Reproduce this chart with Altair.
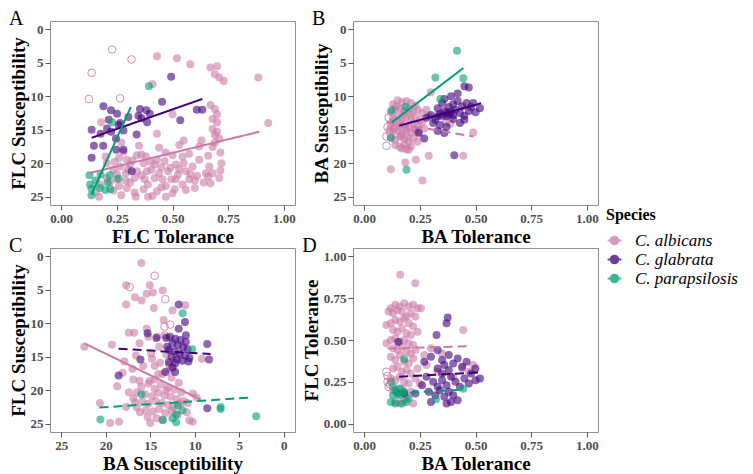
import altair as alt
import pandas as pd

SPECIES = ["C. albicans", "C. glabrata", "C. parapsilosis"]
COLORS = ["#CC79A7", "#3F007D", "#009E73"]
SERIF = "Liberation Serif"

# ---------------- Panel A: FLC Tolerance (x) vs FLC Susceptibility (y)
A_ALB = [(0.43,4.0),(0.52,4.3),(0.58,5.2),(0.67,5.7),(0.70,5.5),(0.69,6.7),(0.71,7.2),(0.73,7.7),
 (0.885,7.2),(0.41,8.2),(0.67,11.3),(0.69,11.9),(0.70,12.7),(0.68,13.4),(0.70,13.9),(0.68,14.9),
 (0.70,15.3),(0.69,15.8),(0.71,16.3),(0.69,16.9),(0.68,17.6),(0.715,18.4),(0.72,20.0),(0.715,21.1),
 (0.68,21.5),(0.665,20.5),(0.63,16.6),(0.62,17.5),(0.93,14.0),(0.50,12.7),(0.55,16.6),(0.53,17.3),
 (0.18,13.9),(0.27,16.9),(0.17,25.0),(0.575,18.6),(0.50,18.8),(0.34,18.8),(0.38,19.0),(0.43,19.5),
 (0.465,19.7),(0.37,20.0),(0.31,20.2),(0.265,20.5),(0.235,21.0),(0.29,21.5),(0.34,21.2),(0.405,21.0),
 (0.44,21.5),(0.49,20.7),(0.515,20.2),(0.55,20.0),(0.59,20.5),(0.56,21.2),(0.525,21.7),(0.495,22.4),
 (0.455,22.4),(0.42,22.2),(0.375,22.4),(0.33,22.2),(0.29,22.6),(0.25,22.4),(0.26,23.4),(0.295,23.7),
 (0.33,24.4),(0.335,25.0),(0.41,24.9),(0.43,24.2),(0.47,23.4),(0.51,23.9),(0.545,23.2),(0.575,22.4),
 (0.61,21.9),(0.64,22.9),(0.60,23.7),(0.65,21.5),(0.62,19.5),(0.545,19.0),(0.42,20.2),(0.385,21.2),
 (0.205,20.0),(0.205,22.2),(0.175,23.2),(0.37,23.9),(0.235,24.1),(0.155,24.3),(0.43,15.6),(0.295,19.5),
 (0.36,18.7),(0.26,19.2),(0.515,22.4),(0.28,18.3),(0.32,19.6),(0.40,19.8),(0.45,20.6),(0.48,21.2),
 (0.36,21.8),(0.31,22.9),(0.39,23.2),(0.45,23.6),(0.53,20.9),(0.58,21.6),(0.60,22.6),(0.66,22.0),
 (0.67,23.0),(0.50,24.5),(0.56,24.0),(0.47,25.0),(0.39,25.0),(0.27,24.8),(0.22,22.8),(0.25,21.6),
 (0.30,20.9),(0.66,18.9),(0.71,22.2),(0.47,18.4),(0.44,17.7),(0.35,17.4),(0.20,19.0),(0.24,19.8)]
A_GLA = [(0.494,7.1),(0.453,10.8),(0.137,15.0),(0.137,19.2),(0.147,17.4),(0.19,11.5),(0.224,12.1),
 (0.251,12.6),(0.258,14.3),(0.206,14.8),(0.177,15.6),(0.189,17.4),(0.224,15.3),(0.246,16.3),(0.248,18.0),
 (0.28,18.0),(0.28,15.1),(0.302,13.1),(0.339,15.7),(0.354,11.9),(0.383,12.1),(0.361,13.3),(0.386,13.9),
 (0.347,12.9),(0.398,12.6),(0.535,13.6),(0.609,12.0),(0.634,12.0),(0.317,21.2),(0.265,14.0),(0.214,13.5)]
A_PAR = [(0.394,8.5),(0.229,13.9),(0.127,21.8),(0.136,23.8),(0.136,24.8),(0.174,23.7),(0.199,24.0),
 (0.218,21.8),(0.209,22.9),(0.258,22.3),(0.155,22.6),(0.177,21.7),(0.221,23.9),(0.13,23.2)]
A_HOLLOW = [(0.229,3.0),(0.316,4.5),(0.137,6.5),(0.125,10.4),(0.265,10.3)]
A_FITS = [("C. albicans",0.125,21.5,0.89,15.3,"solid"),
          ("C. glabrata",0.137,16.2,0.634,10.4,"solid"),
          ("C. parapsilosis",0.136,24.7,0.313,11.6,"solid")]

# ---------------- Panel B: BA Tolerance (x) vs BA Susceptibility (y)
B_ALB = [(0.12,20.9),(0.262,22.6),(0.185,19.9),(0.232,19.5),(0.29,18.9),(0.445,18.9),(0.49,15.4),
 (0.30,9.4),(0.367,13.8),(0.387,14.1),(0.20,18.0),(0.17,17.8),(0.24,16.8),(0.27,14.8),(0.26,12.5),
 (0.13,11.2),(0.15,10.6),(0.17,10.9),(0.19,10.7),(0.21,11.0),(0.23,11.4),
 (0.12,12.4),(0.14,12.0),(0.16,11.8),(0.18,12.2),(0.20,11.9),(0.22,12.3),(0.24,12.0),
 (0.13,13.3),(0.15,13.0),(0.17,13.4),(0.19,13.1),(0.21,13.5),(0.23,13.2),(0.25,13.6),
 (0.12,14.3),(0.14,14.0),(0.16,14.5),(0.18,14.2),(0.20,14.6),(0.22,14.1),(0.24,14.4),
 (0.13,15.3),(0.15,15.0),(0.17,15.6),(0.19,15.2),(0.21,15.5),(0.23,15.1),
 (0.12,16.2),(0.14,16.5),(0.16,16.0),(0.18,16.4),(0.20,16.8),(0.22,16.3),
 (0.14,17.3),(0.16,17.6),(0.18,17.2),(0.19,17.9),(0.21,17.5),
 (0.135,14.8),(0.155,13.7),(0.175,12.7),(0.165,15.9),(0.185,14.9),(0.145,11.5),(0.205,12.6),
 (0.195,16.2),(0.115,15.0),(0.125,13.8),(0.225,14.8),(0.245,15.6),(0.26,13.9),(0.28,12.0),(0.29,13.0)]
B_GLA = [(0.30,12.8),(0.32,13.5),(0.33,11.8),(0.34,12.6),(0.35,11.0),(0.36,12.2),(0.37,13.0),(0.38,11.6),
 (0.38,12.7),(0.39,12.3),(0.40,11.2),(0.40,13.4),(0.41,12.0),(0.42,10.7),(0.43,12.5),(0.44,11.5),
 (0.45,12.9),(0.46,11.0),(0.47,12.2),(0.48,11.6),(0.50,12.4),(0.36,10.4),(0.39,10.0),(0.42,9.6),
 (0.34,14.3),(0.37,14.6),(0.33,15.2),(0.36,15.5),(0.28,13.2),(0.31,14.0),(0.45,13.5),(0.49,11.0),
 (0.52,11.8),(0.45,8.5),(0.47,8.7),(0.405,18.8),(0.27,16.3),(0.245,15.4),(0.35,12.9),(0.37,12.5),
 (0.40,12.8),(0.33,13.0),(0.43,14.0)]
B_PAR = [(0.417,3.2),(0.32,7.2),(0.445,7.3),(0.123,12.1),(0.19,21.0),(0.187,11.6),(0.342,10.4),(0.12,16.2)]
B_HOLLOW = [(0.10,17.4),(0.11,13.2),(0.105,14.6),(0.115,15.3),(0.10,16.0)]
B_FITS = [("C. albicans",0.10,13.8,0.49,16.0,"dashed"),
          ("C. glabrata",0.157,14.4,0.525,11.05,"solid"),
          ("C. parapsilosis",0.124,13.9,0.445,5.8,"solid")]

# ---------------- Panel C: BA Susceptibility (x, reversed) vs FLC Susceptibility (y)
C_ALB = [(16.0,1.0),(17.7,4.3),(15.05,4.3),(13.6,5.1),(16.7,6.1),(14.7,5.4),(15.4,5.6),(15.97,6.6),
 (17.7,7.2),(14.6,7.7),(11.06,7.3),(12.5,8.1),(22.4,13.5),(19.3,13.2),(17.4,11.4),(16.8,11.4),
 (15.4,10.8),(15.2,12.0),(14.2,12.0),(13.4,11.8),(20.65,21.9),(18.7,19.4),(19.5,24.9),(18.5,24.7),
 (17.7,22.5),(17.4,20.3),(18.1,17.4),(17.9,15.7),(16.9,18.4),(16.5,20.3),(16.7,21.8),(16.15,23.3),
 (15.0,24.9),(10.6,24.5),(10.25,24.7),(9.2,15.3),(14.9,14.5),(13.9,15.9),(13.2,14.7),(16.2,13.0),
 (15.8,16.4),(14.5,16.4),(13.6,17.6),(12.8,16.9),(12.1,15.0),(16.2,18.6),(15.05,18.6),(14.1,17.6),
 (16.0,19.5),(15.2,19.0),(14.5,19.8),(13.8,19.2),(13.0,19.6),(12.3,19.9),(11.5,20.3),(15.6,20.6),
 (14.8,20.9),(14.1,20.4),(13.4,20.8),(12.7,21.0),(12.0,21.3),(11.2,21.6),(15.9,21.7),(15.2,22.0),
 (14.4,21.6),(13.7,21.9),(13.0,22.2),(12.4,22.5),(11.6,22.0),(10.8,21.9),(15.5,23.0),(14.7,23.2),
 (14.0,22.8),(13.3,23.4),(12.6,23.1),(11.9,23.7),(14.3,24.2),(13.6,24.4),(16.5,22.6),(16.9,21.2),
 (15.3,24.0),(10.9,23.3),(13.2,20.0),(14.5,18.4),(12.6,18.1),(11.8,18.9),(10.2,20.5),(9.8,21.1),
 (14.0,13.5),(13.5,9.5),(12.9,16.2),(14.8,15.3),(17.0,16.8),(16.6,14.8)]
C_GLA = [(12.8,12.0),(12.2,12.3),(11.6,12.5),(11.0,12.8),(12.5,13.0),(11.9,13.3),(11.3,13.6),(10.8,13.9),
 (12.9,14.0),(12.3,14.2),(11.7,14.5),(11.1,14.8),(10.6,15.2),(12.6,15.0),(12.0,15.4),(11.4,15.6),
 (12.9,15.8),(12.2,16.0),(13.1,13.5),(11.0,11.8),(10.7,15.7),(12.5,16.6),(11.8,7.2),(11.1,9.8),
 (11.8,10.8),(15.3,11.5),(16.1,15.4),(18.55,17.8),(13.3,17.3),(12.2,17.3),(8.6,13.1),(8.4,15.4),
 (8.6,22.7),(14.3,12.2),(13.2,12.2)]
C_PAR = [(11.36,8.5),(10.3,13.9),(16.0,20.6),(20.6,24.4),(13.6,24.5),(12.1,24.8),(12.5,24.2),(11.4,23.0),
 (12.1,23.6),(7.1,22.5),(7.1,22.8),(3.1,23.9),(11.9,22.3)]
C_HOLLOW = [(14.5,2.9),(17.3,4.6),(13.3,6.4),(13.4,10.5),(12.76,10.2)]
C_FITS = [("C. albicans",22.4,13.0,9.33,21.4,"solid"),
          ("C. glabrata",18.55,13.8,8.22,14.6,"dashed"),
          ("C. parapsilosis",20.7,22.6,3.8,21.1,"dashed")]

# ---------------- Panel D: BA Tolerance (x) vs FLC Tolerance (y)
D_ALB = [(0.12,0.69),(0.14,0.71),(0.16,0.70),(0.18,0.72),(0.20,0.70),(0.22,0.71),(0.24,0.69),
 (0.13,0.66),(0.15,0.68),(0.17,0.67),(0.19,0.64),(0.21,0.66),(0.23,0.64),
 (0.12,0.60),(0.14,0.62),(0.16,0.61),(0.18,0.63),(0.20,0.60),(0.22,0.58),
 (0.13,0.56),(0.15,0.55),(0.17,0.57),(0.19,0.54),(0.21,0.53),(0.24,0.55),
 (0.12,0.50),(0.14,0.51),(0.16,0.49),(0.18,0.50),(0.20,0.48),(0.22,0.47),
 (0.13,0.45),(0.15,0.44),(0.17,0.46),(0.19,0.43),(0.21,0.42),(0.23,0.44),
 (0.12,0.40),(0.14,0.38),(0.16,0.41),(0.18,0.37),(0.20,0.36),(0.22,0.39),
 (0.13,0.33),(0.15,0.34),(0.17,0.31),(0.19,0.32),(0.21,0.30),(0.24,0.33),
 (0.12,0.27),(0.14,0.26),(0.16,0.28),(0.18,0.25),(0.20,0.24),(0.23,0.27),
 (0.13,0.20),(0.15,0.18),(0.17,0.21),(0.19,0.16),(0.21,0.19),
 (0.14,0.13),(0.16,0.12),(0.18,0.14),(0.22,0.12),
 (0.162,0.89),(0.23,0.84),(0.255,0.69),(0.445,0.56),(0.49,0.35),(0.30,0.45),(0.27,0.41),(0.35,0.42),
 (0.28,0.35),(0.25,0.24),(0.40,0.28),(0.44,0.33),(0.33,0.31),(0.47,0.31),(0.10,0.59),(0.10,0.48),(0.11,0.67)]
D_GLA = [(0.27,0.37),(0.30,0.40),(0.33,0.33),(0.35,0.38),(0.38,0.41),(0.40,0.36),(0.42,0.39),(0.44,0.34),
 (0.46,0.37),(0.48,0.30),(0.50,0.26),(0.52,0.27),(0.28,0.28),(0.31,0.25),(0.33,0.22),(0.35,0.26),
 (0.37,0.23),(0.39,0.28),(0.41,0.25),(0.43,0.22),(0.45,0.27),(0.47,0.24),(0.29,0.19),(0.32,0.17),
 (0.34,0.20),(0.36,0.16),(0.38,0.19),(0.40,0.17),(0.42,0.14),(0.30,0.13),(0.37,0.12),(0.39,0.13),
 (0.35,0.30),(0.38,0.32),(0.36,0.35),(0.26,0.23),(0.23,0.18),(0.18,0.18),(0.375,0.635),(0.37,0.60),
 (0.325,0.53),(0.153,0.488),(0.33,0.44),(0.50,0.33)]
D_PAR = [(0.12,0.25),(0.13,0.22),(0.14,0.20),(0.15,0.18),(0.16,0.17),(0.13,0.17),(0.12,0.13),(0.14,0.12),
 (0.17,0.12),(0.19,0.13),(0.20,0.15),(0.18,0.385),(0.445,0.209),(0.3225,0.146),(0.16,0.21),(0.18,0.19)]
D_HOLLOW = [(0.10,0.31),(0.105,0.25),(0.11,0.22),(0.105,0.285),(0.115,0.235)]
D_FITS = [("C. albicans",0.105,0.449,0.48,0.463,"dashed"),
          ("C. glabrata",0.157,0.281,0.525,0.307,"dashed"),
          ("C. parapsilosis",0.142,0.18,0.427,0.203,"dashed")]

TOL_TICKS = [0, 0.25, 0.5, 0.75, 1.0]
SUS_TICKS = [0, 5, 10, 15, 20, 25]


def points_df(groups):
    rows = []
    for sp, pairs in zip(SPECIES, groups):
        for x, y in pairs:
            rows.append({"species": sp, "x": x, "y": y})
    return pd.DataFrame(rows)


def hollow_df(pairs):
    return pd.DataFrame([{"x": x, "y": y} for x, y in pairs])


def fits_df(fits):
    rows = []
    for sp, x0, y0, x1, y1, style in fits:
        rows.append({"species": sp, "x": x0, "y": y0, "style": style})
        rows.append({"species": sp, "x": x1, "y": y1, "style": style})
    return pd.DataFrame(rows)


LEGEND = alt.Legend(
    title="Species", orient="none", legendX=556, legendY=186,
    titleFont=SERIF, titleFontSize=16, titleFontWeight="bold", titleColor="black", titlePadding=9,
    labelFont=SERIF, labelFontSize=17, labelFontStyle="italic", labelFontWeight="normal",
    labelColor="black", labelOffset=12,
    symbolType="M-1,0L1,0M0.55,0A0.55,0.55,0,1,1,-0.55,0A0.55,0.55,0,1,1,0.55,0Z",
    symbolSize=190, symbolStrokeWidth=2, symbolOpacity=0.75, rowPadding=1,
)


def make_axis(vals, fmt, title):
    return alt.Axis(values=vals, format=fmt, title=title, labelOverlap=False, labelFlush=False,
                    labelFont=SERIF, labelFontSize=13, labelFontWeight="bold", labelColor="#4D4D4D",
                    labelPadding=2, titleFont=SERIF, titleFontSize=19, titleFontWeight="bold",
                    titleColor="black", titlePadding=2, tickSize=5)


def panel(letter, pts, hol, fits, xdom, ydom, xvals, yvals, xfmt, yfmt, xtitle, ytitle, xrev, yrev):
    xs = alt.Scale(domain=xdom, nice=False, zero=False, reverse=xrev)
    ys = alt.Scale(domain=ydom, nice=False, zero=False, reverse=yrev)
    xe = alt.X("x:Q", scale=xs, axis=make_axis(xvals, xfmt, xtitle))
    ye = alt.Y("y:Q", scale=ys, axis=make_axis(yvals, yfmt, ytitle))
    cscale = alt.Scale(domain=SPECIES, range=COLORS)
    p = alt.Chart(pts).mark_circle(size=64, opacity=0.6).encode(
        x=xe, y=ye, color=alt.Color("species:N", scale=cscale, legend=LEGEND))
    h = alt.Chart(hol).mark_point(size=58, filled=False, strokeWidth=1, color=COLORS[0], opacity=0.85).encode(
        x=xe, y=ye)
    f = alt.Chart(fits).mark_line(strokeWidth=2).encode(
        x=xe, y=ye,
        color=alt.Color("species:N", scale=cscale, legend=LEGEND),
        strokeDash=alt.StrokeDash("style:N", scale=alt.Scale(domain=["solid", "dashed"], range=[[1, 0], [9, 5]]), legend=None),
        detail="species:N")
    return alt.layer(p, h, f).properties(
        width=245, height=184,
        title=alt.TitleParams(letter, anchor="start", frame="bounds", fontSize=20, font=SERIF,
                              fontWeight="normal", color="black", offset=-8))


TOL_DOM = [-0.05, 1.05]
SUS_DOM = [-1.25, 26.25]

pA = panel("A", points_df([A_ALB, A_GLA, A_PAR]), hollow_df(A_HOLLOW), fits_df(A_FITS),
           TOL_DOM, SUS_DOM, TOL_TICKS, SUS_TICKS, ".2f", "d", "FLC Tolerance", "FLC Susceptibility", False, True)
pB = panel("B", points_df([B_ALB, B_GLA, B_PAR]), hollow_df(B_HOLLOW), fits_df(B_FITS),
           TOL_DOM, SUS_DOM, TOL_TICKS, SUS_TICKS, ".2f", "d", "BA Tolerance", "BA Susceptibility", False, True)
pC = panel("C", points_df([C_ALB, C_GLA, C_PAR]), hollow_df(C_HOLLOW), fits_df(C_FITS),
           SUS_DOM, SUS_DOM, SUS_TICKS, SUS_TICKS, "d", "d", "BA Susceptibility", "FLC Susceptibility", True, True)
pD = panel("D", points_df([D_ALB, D_GLA, D_PAR]), hollow_df(D_HOLLOW), fits_df(D_FITS),
           TOL_DOM, TOL_DOM, TOL_TICKS, TOL_TICKS, ".2f", ".2f", "BA Tolerance", "FLC Tolerance", False, False)

chart = alt.concat(pA, pB, pC, pD, columns=2, spacing={"row": 43, "column": 58}, bounds="flush").properties(
    padding=0
).configure_axis(
    grid=False, domain=False, tickColor="#555555", tickSize=5, tickWidth=1,
    labelFont=SERIF, labelFontSize=13, labelFontWeight="bold", labelColor="#4D4D4D",
    titleFont=SERIF, titleFontSize=19, titleFontWeight="bold", titleColor="black",
).configure_view(stroke="#8F8F8F", strokeWidth=1)

chart.save("out.html", embed_options={"renderer": "svg", "actions": False})
